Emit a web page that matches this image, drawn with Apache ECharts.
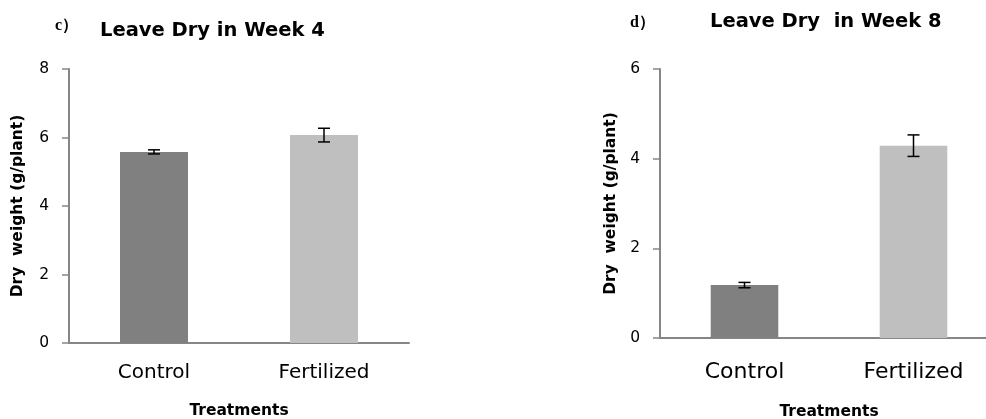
<!DOCTYPE html>
<html>
<head>
<meta charset="utf-8">
<script src="https://cdn.jsdelivr.net/npm/echarts@6/dist/echarts.min.js"></script>
<style>
  html, body { margin: 0; padding: 0; background: #fff; }
  #chart { width: 986px; height: 419px; }
</style>
</head>
<body>
<div id="chart"></div>
<script>
const categories = ['Control', 'Fertilized'];
const week4Values = [5.58, 6.07];
const week4Errors = [0.06, 0.2];
const week8Values = [1.18, 4.29];
const week8Errors = [0.06, 0.24];
const week4Ticks = [0, 8, 2];   // min, max, interval
const week8Ticks = [0, 6, 2];

const barColors = ['#808080', '#bfbfbf'];
const axisColor = '#868686';
const font = '"DejaVu Sans", sans-serif';

let myChart = echarts.init(document.getElementById('chart'));

function errorSeries(idx, values, errors) {
  return {
    type: 'custom',
    xAxisIndex: idx,
    yAxisIndex: idx,
    z: 10,
    data: values.map((v, i) => [i, v - errors[i], v + errors[i]]),
    renderItem: function (params, api) {
      const lo = api.coord([api.value(0), api.value(1)]);
      const hi = api.coord([api.value(0), api.value(2)]);
      const w = 6;
      const style = { stroke: '#000', lineWidth: 1.5 };
      return {
        type: 'group',
        children: [
          { type: 'line', shape: { x1: lo[0], y1: lo[1], x2: hi[0], y2: hi[1] }, style: style },
          { type: 'line', shape: { x1: lo[0] - w, y1: lo[1], x2: lo[0] + w, y2: lo[1] }, style: style },
          { type: 'line', shape: { x1: hi[0] - w, y1: hi[1], x2: hi[0] + w, y2: hi[1] }, style: style }
        ]
      };
    }
  };
}

function xAxis(idx, labelSize, margin, gap) {
  return {
    type: 'category',
    gridIndex: idx,
    data: categories,
    name: 'Treatments',
    nameLocation: 'middle',
    nameGap: gap,
    nameTextStyle: { fontFamily: font, fontWeight: 'bold', fontSize: 15.5, color: '#000' },
    axisLine: { lineStyle: { color: axisColor, width: 2 } },
    axisTick: { show: false },
    axisLabel: { fontFamily: font, fontSize: labelSize, color: '#000', margin: margin }
  };
}

function yAxis(idx, ticks, gap) {
  return {
    type: 'value',
    gridIndex: idx,
    min: ticks[0],
    max: ticks[1],
    interval: ticks[2],
    name: 'Dry  weight (g/plant)',
    nameLocation: 'middle',
    nameGap: gap,
    nameTextStyle: { fontFamily: font, fontWeight: 'bold', fontSize: 15.5, color: '#000' },
    axisLine: { show: true, lineStyle: { color: axisColor, width: 2 } },
    axisTick: { show: true, inside: false, length: 7, lineStyle: { color: axisColor, width: 1.5 } },
    splitLine: { show: false },
    axisLabel: { fontFamily: font, fontSize: 15.5, color: '#000', margin: 20 }
  };
}

function barSeries(idx, values) {
  return {
    type: 'bar',
    xAxisIndex: idx,
    yAxisIndex: idx,
    barWidth: '40%',
    data: values.map((v, i) => ({ value: v, itemStyle: { color: barColors[i] } }))
  };
}

myChart.setOption({
  animation: false,
  title: [
    { text: 'c）', left: 50, top: 13, textStyle: { fontFamily: '"Liberation Serif", serif', fontWeight: 'bold', fontSize: 16, color: '#000' } },
    { text: 'Leave Dry in Week 4', left: 95, top: 16, textStyle: { fontFamily: font, fontWeight: 'bold', fontSize: 19.5, color: '#000' } },
    { text: 'd）', left: 625, top: 10, textStyle: { fontFamily: '"Liberation Serif", serif', fontWeight: 'bold', fontSize: 16, color: '#000' } },
    { text: 'Leave Dry  in Week 8', left: 705, top: 7, textStyle: { fontFamily: font, fontWeight: 'bold', fontSize: 19.5, color: '#000' } }
  ],
  grid: [
    { left: 69, top: 69, width: 340, height: 274, outerBoundsMode: 'none' },
    { left: 660, top: 69, width: 338, height: 269, outerBoundsMode: 'none' }
  ],
  xAxis: [xAxis(0, 20, 20, 60), xAxis(1, 22, 23, 66)],
  yAxis: [yAxis(0, week4Ticks, 43), yAxis(1, week8Ticks, 41)],
  series: [
    barSeries(0, week4Values),
    errorSeries(0, week4Values, week4Errors),
    barSeries(1, week8Values),
    errorSeries(1, week8Values, week8Errors)
  ]
});

window.addEventListener('resize', () => {
  if (myChart) {
    myChart.resize();
  }
});
</script>
</body>
</html>
